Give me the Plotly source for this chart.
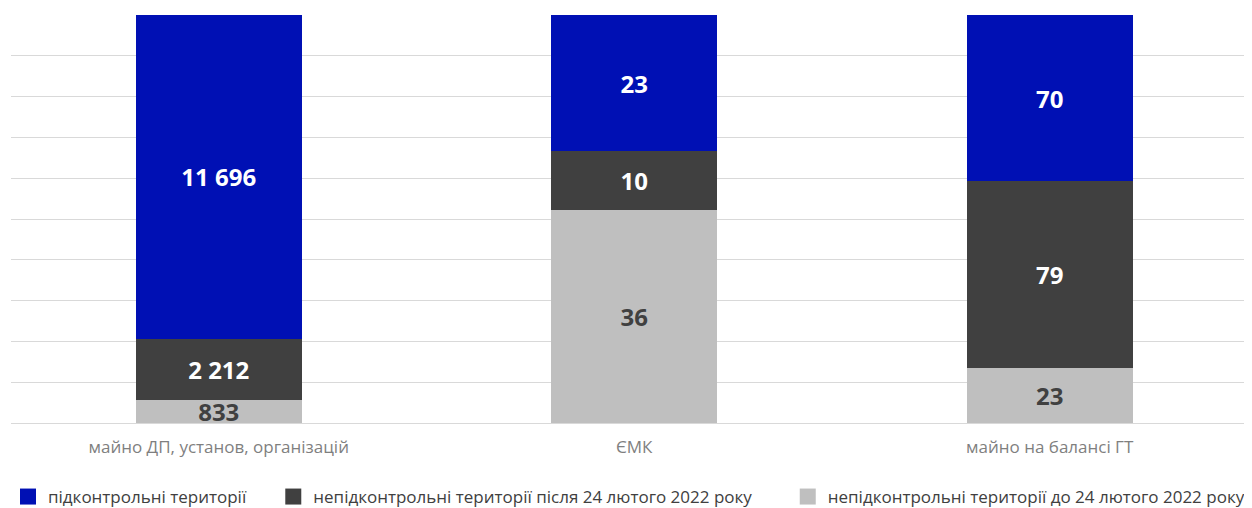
import plotly.graph_objects as go

categories = ["майно ДП, установ, організацій", "ЄМК", "майно на балансі ГТ"]
series_names = [
    "непідконтрольні території до 24 лютого 2022 року",
    "непідконтрольні території після 24 лютого 2022 року",
    "підконтрольні території",
]
before_2022 = [833, 36, 23]
after_2022 = [2212, 10, 79]
controlled = [11696, 23, 70]

colors = {
    series_names[0]: "#BFBFBF",
    series_names[1]: "#404040",
    series_names[2]: "#0010B4",
}
text_colors = {
    series_names[0]: "#404040",
    series_names[1]: "#FFFFFF",
    series_names[2]: "#FFFFFF",
}
# extra padding after legend labels (non-breaking spaces) to match entry spacing
legend_pad = {
    series_names[2]: 5,
    series_names[1]: 7,
    series_names[0]: 0,
}

def fmt(v):
    return f"{v:,}".replace(",", " ")

FONT = "Open Sans"

fig = go.Figure()
for name, vals in zip(series_names, [before_2022, after_2022, controlled]):
    fig.add_trace(go.Bar(
        x=categories, y=vals, name=name,
        marker=dict(color=colors[name], line=dict(width=0)),
        text=[fmt(v) for v in vals],
        textposition="inside", insidetextanchor="middle",
        textangle=0, constraintext="none",
        textfont=dict(family=FONT, size=24, color=text_colors[name], weight="bold"),
        showlegend=False, hoverinfo="skip",
    ))

# legend entries (order: controlled, after, before)
for name in [series_names[2], series_names[1], series_names[0]]:
    fig.add_trace(go.Scatter(
        x=[None], y=[None], mode="markers",
        name=name + "\u00a0" * legend_pad[name],
        marker=dict(symbol="square", size=18, color=colors[name]),
        showlegend=True,
    ))

fig.update_layout(
    width=1244, height=500,
    barmode="stack", barnorm="percent", bargap=0.6,
    margin=dict(l=3, r=0, t=7, b=85),
    paper_bgcolor="white", plot_bgcolor="white",
    font=dict(family=FONT, color="#404040"),
    xaxis=dict(
        range=[-0.5, 2.487], showgrid=False, showline=False, zeroline=False,
        ticks="", tickfont=dict(family=FONT, size=17, color="#7F7F7F"),
        ticklabelstandoff=12,
    ),
    yaxis=dict(
        range=[0, 100], dtick=10, showgrid=True, gridcolor="#D9D9D9", gridwidth=1,
        showticklabels=False, zeroline=True, zerolinecolor="#D9D9D9", zerolinewidth=1,
        showline=False,
    ),
    legend=dict(
        orientation="h", xref="container", yref="container",
        x=0.0, y=0.022, xanchor="left", yanchor="middle",
        font=dict(family=FONT, size=17, color="#404040"),
        itemsizing="trace", traceorder="normal",
        bgcolor="rgba(0,0,0,0)",
    ),
)

fig.write_html("out.html")
